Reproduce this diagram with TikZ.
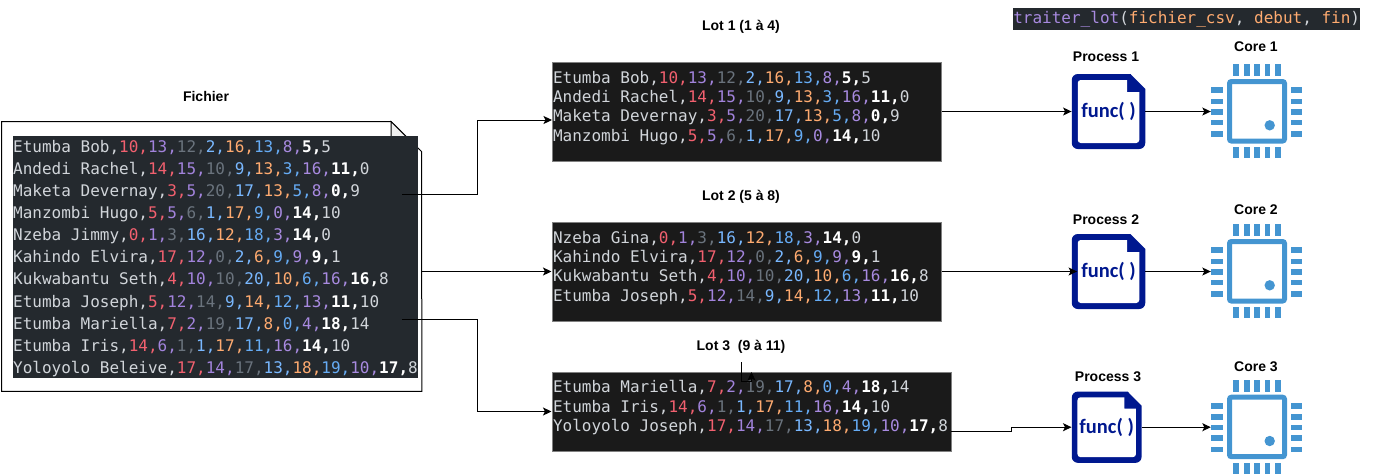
\documentclass[tikz,border=0pt]{standalone}
\usepackage{fontspec}
\setsansfont{Liberation Sans}
\setmonofont{DejaVu Sans Mono}
\newfontfamily\funcfont{Carlito}
\usetikzlibrary{arrows.meta}

\definecolor{csvfond}{HTML}{24292E}
\definecolor{lotfond}{HTML}{1A1A1A}
\definecolor{csvtexte}{HTML}{D1D5DA}
\definecolor{csvrouge}{HTML}{F2606F}
\definecolor{csvviolet}{HTML}{A283DC}
\definecolor{csvgris}{HTML}{6A737D}
\definecolor{csvciel}{HTML}{79B8FF}
\definecolor{csvorange}{HTML}{FFAB70}
\definecolor{csvbleu}{HTML}{66ACF5}
\definecolor{csvmauve}{HTML}{A88AE0}
\definecolor{funcbleu}{HTML}{00188F}
\definecolor{coeurbleu}{HTML}{4495D1}

% une ligne du fichier : nom puis huit valeurs, la derniere valeur suit en clair
\newcommand{\csvrow}[9]{#1,{\color{csvrouge}#2,}{\color{csvviolet}#3,}{\color{csvgris}#4,}{\color{csvciel}#5,}{\color{csvorange}#6,}{\color{csvbleu}#7,}{\color{csvmauve}#8,}{\color{white}\bfseries#9,}}

\tikzset{
    titre/.style={font=\sffamily\bfseries\fontsize{14}{16}\selectfont, inner sep=0pt},
    flux/.style={draw=black, line width=1pt, -{Stealth[length=8.5pt,width=8pt,inset=2pt]}},
    donnees/.style={fill=csvfond, text=csvtexte, inner sep=0pt, anchor=north west},
    lotbox/.style={fill=lotfond, draw=gray, line width=1pt, text=csvtexte, inner xsep=1pt, inner ysep=0pt,
        font=\ttfamily\fontsize{16}{19.3}\selectfont},
    functext/.style={inner sep=0pt, minimum width=73.5pt, minimum height=75pt, text=funcbleu,
        font=\funcfont\bfseries\fontsize{20.5}{22}\selectfont},
    coeurnode/.style={inner sep=0pt, minimum width=91pt, minimum height=94pt},
    funcdoc/.pic={
        \fill[funcbleu, rounded corners=6pt] (-36.75,-37.5) [sharp corners] -- (22,-37.5) -- (36.75,-22.5)
            [rounded corners=6pt] -- (36.75,37.5) -- (-36.75,37.5) -- cycle;
        \fill[white, rounded corners=3pt] (-30.75,-31.5) [sharp corners] -- (18.5,-31.5) -- (18.5,-19.5) -- (30.75,-19.5)
            [rounded corners=3pt] -- (30.75,31.5) -- (-30.75,31.5) -- cycle;
    },
    coeurpuce/.pic={
        \draw[coeurbleu, line width=5pt, rounded corners=2pt] (-27,-30) rectangle (28,29.5);
        \fill[coeurbleu] (13.2,13.8) circle (5.2);
        \foreach \p in {-20.5,-9.8,0.5,10.8,21.2} {
            \fill[coeurbleu] (\p-2.8,-47.5) rectangle (\p+2.8,-35.5);
            \fill[coeurbleu] (\p-2.8,35.5) rectangle (\p+2.8,46.5);
        }
        \foreach \q in {-21.5,-10.2,0.2,10.8,22.2} {
            \fill[coeurbleu] (-45.5,\q-2.8) rectangle (-33.8,\q+2.8);
            \fill[coeurbleu] (34.2,\q-2.8) rectangle (45.5,\q+2.8);
        }
    }
}

\begin{document}
\begin{tikzpicture}[x=1pt, y=-1pt]
    \useasboundingbox (0,0) rectangle (1393,475);

    % le fichier de depart
    \node[inner sep=0pt, minimum width=420pt, minimum height=269.5pt, anchor=north west] (fichier) at (1.5,121.5) {};
    \coordinate (pli) at (391,121.5);
    \coordinate (plibas) at (421.5,151.5);
    \draw[line width=1pt, fill=white] (fichier.north west) -- (pli) -- (plibas)
        -- (fichier.south east) -- (fichier.south west) -- cycle;
    \draw[line width=1pt, fill=black!6] (pli) -- (406,136.5) -- (391,136.5) -- cycle;
    \node[titre] (titrefichier) at (206,96) {Fichier};
    \node[donnees, font=\ttfamily\fontsize{16}{22.1}\selectfont] (lignes) at (13,136) {\parbox[c][242pt][t]{405pt}{\vspace{4pt}%
        \csvrow{Etumba Bob}{10}{13}{12}{2}{16}{13}{8}{5}5\\
        \csvrow{Andedi Rachel}{14}{15}{10}{9}{13}{3}{16}{11}0\\
        \csvrow{Maketa Devernay}{3}{5}{20}{17}{13}{5}{8}{0}9\\
        \csvrow{Manzombi Hugo}{5}{5}{6}{1}{17}{9}{0}{14}10\\
        \csvrow{Nzeba Jimmy}{0}{1}{3}{16}{12}{18}{3}{14}0\\
        \csvrow{Kahindo Elvira}{17}{12}{0}{2}{6}{9}{9}{9}1\\
        \csvrow{Kukwabantu Seth}{4}{10}{10}{20}{10}{6}{16}{16}8\\
        \csvrow{Etumba Joseph}{5}{12}{14}{9}{14}{12}{13}{11}10\\
        \csvrow{Etumba Mariella}{7}{2}{19}{17}{8}{0}{4}{18}14\\
        \csvrow{Etumba Iris}{14}{6}{1}{1}{17}{11}{16}{14}10\\
        \csvrow{Yoloyolo Beleive}{17}{14}{17}{13}{18}{19}{10}{17}8}};

    % les trois lots
    \node[lotbox] (lot1) at (746.5,111.5) {\parbox[c][99pt][t]{387pt}{\vspace{9pt}%
        \csvrow{Etumba Bob}{10}{13}{12}{2}{16}{13}{8}{5}5\\
        \csvrow{Andedi Rachel}{14}{15}{10}{9}{13}{3}{16}{11}0\\
        \csvrow{Maketa Devernay}{3}{5}{20}{17}{13}{5}{8}{0}9\\
        \csvrow{Manzombi Hugo}{5}{5}{6}{1}{17}{9}{0}{14}10}};
    \node[lotbox] (lot2) at (746.5,271.5) {\parbox[c][99pt][t]{387pt}{\vspace{9pt}%
        \csvrow{Nzeba Gina}{0}{1}{3}{16}{12}{18}{3}{14}0\\
        \csvrow{Kahindo Elvira}{17}{12}{0}{2}{6}{9}{9}{9}1\\
        \csvrow{Kukwabantu Seth}{4}{10}{10}{20}{10}{6}{16}{16}8\\
        \csvrow{Etumba Joseph}{5}{12}{14}{9}{14}{12}{13}{11}10}};
    \node[lotbox] (lot3) at (751.5,411.5) {\parbox[c][79pt][t]{397pt}{\vspace{8.5pt}%
        \csvrow{Etumba Mariella}{7}{2}{19}{17}{8}{0}{4}{18}14\\
        \csvrow{Etumba Iris}{14}{6}{1}{1}{17}{11}{16}{14}10\\
        \csvrow{Yoloyolo Joseph}{17}{14}{17}{13}{18}{19}{10}{17}8}};
    \node[titre] (titrelot1) at (741,26.5) {Lot 1 (1 à 4)};
    \node[titre] (titrelot2) at (741,196.5) {Lot 2 (5 à 8)};
    \node[titre] (titrelot3) at (741,347) {Lot 3 \ (9 à 11)};

    % la fonction appelee par chaque processus
    \node[fill=csvfond, inner sep=0pt, minimum width=347pt, minimum height=22pt, anchor=north west,
        font=\ttfamily\fontsize{16}{18}\selectfont, text=csvtexte] (appel) at (1013,8)
        {{\color{csvmauve}traiter\_lot}({\color{csvorange}fichier\_csv}, {\color{csvorange}debut}, {\color{csvorange}fin})};

    % processus et coeurs
    \pic at (1108.5,111.5) {funcdoc};
    \pic at (1108.5,271.5) {funcdoc};
    \pic[scale=0.95] at (1106.7,427.2) {funcdoc};
    \node[functext] (proc1) at (1108.5,111.5) {func( )};
    \node[functext] (proc2) at (1108.5,271.5) {func( )};
    \node[functext, minimum width=70pt, minimum height=71pt] (proc3) at (1106.7,427.2) {func( )};
    \node[titre] (titreproc1) at (1106,56.8) {Process 1};
    \node[titre] (titreproc2) at (1106,219.8) {Process 2};
    \node[titre] (titreproc3) at (1108,376.8) {Process 3};

    \foreach \n/\y/\ytitre in {1/111.5/46.8, 2/271.5/209.8, 3/427.2/366.8} {
        \pic at (1256.5,\y) {coeurpuce};
        \node[coeurnode] (core\n) at (1256.5,\y) {};
        \node[titre] (titrecore\n) at (1256,\ytitre) {Core \n};
    }

    % les connecteurs
    \coordinate (sortie1) at (402,194);
    \coordinate (coude1) at (477,120);
    \coordinate (entree1) at (552,120);
    \coordinate (sortie3) at (402,319);
    \coordinate (coude3) at (477,411.5);
    \coordinate (sortie4) at (951,431.5);
    \coordinate (coude4) at (1011.5,427.2);
    \coordinate (departtitre) at (741.5,362);
    \coordinate (coudetitre) at (751.5,381.5);
    \coordinate (entreetitre) at (751.5,372);

    \draw[flux] (sortie1) -| (coude1) -- (entree1);
    \draw[flux] (lot2 -| fichier.east) -- (lot2.west);
    \draw[flux] (sortie3) -| (coude3) -- (lot3.west);
    \draw[flux] (lot1.east) -- (proc1.west);
    \draw[flux] (lot2.east) -- ([xshift=5.5pt]proc2.west);
    \draw[flux] (sortie4) -| (coude4) -- (proc3.west);
    \draw[flux] (proc1.east) -- (core1.west);
    \draw[flux] (proc2.east) -- (core2.west);
    \draw[flux] (proc3.east) -- (core3.west);
    \draw[flux] (departtitre) |- (coudetitre) -- (entreetitre);

\end{tikzpicture}
\end{document}
